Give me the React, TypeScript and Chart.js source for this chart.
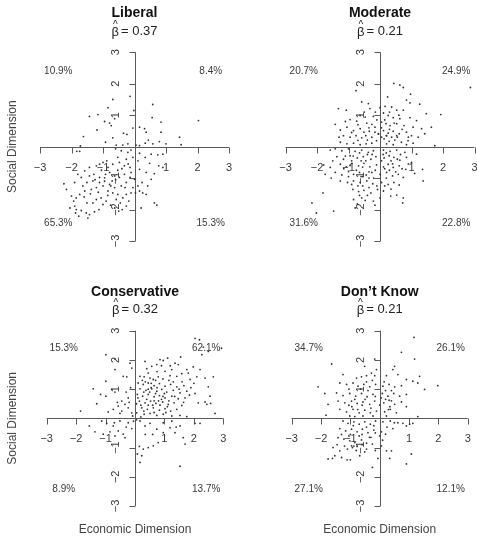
import React, { useEffect, useRef } from 'react';
import { Chart, registerables } from 'chart.js';

Chart.register(...registerables);

// ---------------- data ----------------
const TITLES = ['Liberal', 'Moderate', 'Conservative', 'Don\u2019t Know'];
const BETAS = ['0.37', '0.21', '0.32', '0.21'];
// quadrant shares: [top-left, top-right, bottom-left, bottom-right]
const SHARES_LIBERAL = ['10.9%', '8.4%', '65.3%', '15.3%'];
const SHARES_MODERATE = ['20.7%', '24.9%', '31.6%', '22.8%'];
const SHARES_CONSERVATIVE = ['15.3%', '62.1%', '8.9%', '13.7%'];
const SHARES_DONTKNOW = ['34.7%', '26.1%', '27.1%', '12.1%'];
const TICKS = [-3, -2, -1, 1, 2, 3];
const TICK_LABELS = ['\u22123', '\u22122', '\u22121', '1', '2', '3'];
const X_TITLE = 'Economic Dimension';
const Y_TITLE = 'Social Dimension';

const LIBERAL: number[][] = [
  [-0.14,1.6],[-0.69,1.5],[-0.84,1.24],[0.58,1.34],[-0.02,1.15],[-1.43,0.96],[-1.16,1.02],[-0.95,0.8],[-0.74,0.67],[-0.79,0.75],
  [-1.19,0.53],[-0.63,0.89],[0.56,0.92],[0.84,0.78],[2.03,0.83],[0.16,0.62],[0.32,0.57],[-0.05,0.59],[0.37,0.46],[-0.35,0.43],
  [-0.24,0.39],[0.84,0.46],[-0.69,0.28],[-1.62,0.32],[1.43,0.3],[1.48,0.06],[0.44,0.21],[0.79,0.16],[1.0,0.09],[-0.92,0.14],
  [-0.58,0.05],[-0.37,0.05],[-0.21,0.09],[0.05,0.05],[0.16,0.03],[0.34,0.11],[-1.72,0.02],[-1.83,-0.15],[-1.74,-0.15],[0.58,0.09],
  [-0.6,-0.07],[-0.42,-0.13],[-0.21,-0.18],[-0.11,-0.11],[0.16,-0.21],[0.34,-0.34],[0.53,-0.24],[0.74,-0.26],[0.9,-0.24],[-0.53,-0.34],
  [-0.26,-0.4],[-0.05,-0.34],[0.11,-0.45],[0.48,-0.53],[0.77,-0.61],[0.9,-0.66],[0.63,-0.86],[0.37,-0.82],[0.16,-0.72],[-0.14,-0.66],
  [-0.32,-0.61],[-0.48,-0.5],[-0.69,-0.56],[-0.88,-0.45],[-1.11,-0.56],[-1.21,-0.61],[-1.43,-0.66],[-1.58,-0.77],[-1.8,-0.88],[-1.9,-1.14],
  [-2.24,-1.18],[-1.69,-0.98],[-1.51,-1.14],[-1.32,-1.09],[-1.11,-0.98],[-0.92,-0.88],[-0.79,-0.82],[-0.63,-0.93],[-0.48,-0.98],[-0.32,-0.88],
  [-0.11,-0.82],[0,-1.04],[-0.26,-1.14],[-0.42,-1.25],[-0.63,-1.3],[-0.79,-1.2],[-1.0,-1.25],[-1.21,-1.3],[-1.37,-1.36],[-1.58,-1.41],
  [-1.74,-1.52],[-1.85,-1.63],[-1.93,-1.73],[-1.9,-1.89],[-1.85,-2.0],[-1.69,-2.03],[-1.53,-2.11],[-1.43,-2.16],[-1.27,-2.07],[-1.13,-2.0],
  [-1.51,-1.79],[-1.32,-1.79],[-1.21,-1.68],[-1.06,-1.63],[-0.9,-1.73],[-1.0,-1.84],[-0.76,-1.86],[-0.63,-1.95],[-0.39,-2.0],[-0.26,-1.89],
  [-0.18,-1.73],[-0.37,-1.63],[-0.53,-1.52],[-0.69,-1.47],[-0.84,-1.41],[-0.58,-1.68],[-0.11,-1.47],[0.16,-1.41],[0.26,-1.47],[0.37,-1.52],
  [0.21,-1.95],[0.63,-1.79],[0.71,-1.86],[0.03,-1.47],[-2.0,-1.57],[-1.87,-2.11],[-1.77,-2.21],[-1.48,-2.27],[-1.11,-1.14],[-0.95,-0.99],
  [-2.16,-1.36],[-0.26,-1.52],[-0.45,-1.79],[-0.71,-1.09],[0.24,-1.14],[0.53,-1.04],[0.42,-1.25],[0.11,-1.25],[-0.05,-1.3],[-0.14,-0.98],
  [-0.53,-0.75],[-0.84,-0.66],[-1.29,-0.88],[-1.43,-0.93],[-1.64,-1.25],[-1.05,-0.75],[-0.95,-1.1],[-0.6,-1.05],[-0.4,-0.7],[-1.25,-1.05],
  [-1.6,-1.6],[-0.85,-1.55],[-0.3,-1.3],[-1.4,-1.5],[-2.05,-1.95],[-0.5,-2.05],[-1.0,-0.5],[-0.75,-1.25],[-1.15,-1.45],[-0.2,-0.55]
];

const MODERATE: number[][] = [
  [0.44,2.01],[0.63,1.96],[0.74,1.88],[2.87,1.88],[-0.76,1.78],[0.97,1.67],[0.24,1.58],[0.84,1.48],[-0.58,1.42],[-0.37,1.37],
  [0,1.24],[0.16,1.28],[0.37,1.26],[0.95,1.39],[1.26,1.35],[-1.32,1.21],[-1.07,1.16],[-0.32,1.21],[0.53,1.16],[0.74,1.16],
  [1.47,1.05],[1.93,1.02],[0.11,1.07],[0.26,0.99],[-0.63,0.99],[-0.47,0.94],[-0.21,0.96],[0.42,0.92],[0.63,0.89],[0.95,0.92],
  [1.16,0.83],[-0.95,0.86],[-0.74,0.81],[-0.42,0.75],[-0.26,0.71],[0.05,0.78],[0.19,0.73],[0.32,0.67],[0.53,0.73],[0.76,0.67],
  [1.05,0.62],[1.32,0.57],[1.63,0.62],[-1.42,0.71],[-1.26,0.53],[-1.05,0.62],[-0.84,0.51],[-0.63,0.57],[-0.51,0.46],[-0.34,0.49],
  [-0.16,0.46],[0.11,0.51],[0.26,0.43],[0.42,0.49],[0.61,0.41],[0.84,0.46],[1.0,0.35],[1.21,0.3],[1.42,0.41],[-1.16,0.35],
  [-0.95,0.3],[-0.76,0.35],[-0.58,0.28],[-0.4,0.21],[-0.26,0.3],[-0.11,0.19],[0.13,0.25],[0.29,0.17],[0.47,0.21],[0.68,0.14],
  [0.89,0.19],[1.05,0.11],[1.74,0.03],[-1.58,-0.11],[-1.26,0.14],[-1.05,0.09],[-0.84,0.11],[-0.63,0.06],[-0.44,0.09],[-0.26,0.11],
  [0.21,0.09],[0.42,0.06],[0.84,0.06],[-0.05,0.4],[0.05,0.6],[-0.1,0.85],[0.3,1.1],[0.55,0.3],[-0.7,0.7],[0.2,0.35],
  [-0.16,0.62],[-0.05,0.41],[0.05,0.3],[0.21,0.35],[0.37,0.3],[0.53,0.35],[-0.45,0.35],[-0.7,0.2],[-0.9,0.45],[-0.35,0.6],
  [0.3,0.55],[0.15,0.85],[-0.15,1.1],[0.45,0.75],[0.7,0.55],[0.9,0.3],[-1.3,0.3],[-1.1,0.8],[0.6,1.0],[-0.5,1.1],
  [-1.42,-0.07],[-1.21,-0.13],[-1.0,-0.07],[-0.79,-0.15],[-0.58,-0.11],[-0.37,-0.18],[-0.21,-0.13],[0.11,-0.11],[0.32,-0.15],[0.53,-0.11],
  [0.79,-0.18],[1.16,-0.24],[-1.37,-0.32],[-1.16,-0.4],[-0.95,-0.29],[-0.72,-0.36],[-0.53,-0.32],[-0.29,-0.4],[-0.13,-0.32],[0.13,-0.36],
  [0.29,-0.29],[0.44,-0.34],[0.63,-0.43],[0.84,-0.34],[1.0,-0.5],[-1.79,-0.58],[-1.58,-0.66],[-1.26,-0.56],[-1.07,-0.64],[-0.89,-0.53],
  [-0.68,-0.61],[-0.51,-0.53],[-0.32,-0.64],[-0.11,-0.58],[0.11,-0.64],[0.26,-0.56],[0.42,-0.66],[0.61,-0.61],[0.82,-0.72],[1.35,-0.72],
  [-1.74,-0.88],[-1.42,-0.82],[-1.21,-0.9],[-1.0,-0.79],[-0.84,-0.88],[-0.65,-0.82],[-0.44,-0.9],[-0.26,-0.82],[0,-0.88],[0.21,-0.82],
  [0.4,-0.93],[0.58,-0.88],[0.74,-0.98],[1.37,-1.09],[-1.26,-1.09],[-1.03,-1.14],[-0.84,-1.09],[-0.63,-1.14],[-0.42,-1.09],[-0.23,-1.18],
  [0.05,-1.14],[0.26,-1.2],[0.44,-1.14],[0.61,-1.22],[-1.81,-1.47],[-0.86,-1.36],[-0.68,-1.43],[-0.51,-1.39],[-0.29,-1.47],[-0.08,-1.36],
  [0.11,-1.41],[0.34,-1.57],[0.53,-1.54],[0.74,-1.63],[0.72,-1.79],[-2.16,-1.79],[-2.02,-2.11],[-1.47,-2.05],[-0.84,-1.68],[-0.72,-1.82],
  [-0.47,-1.71],[-0.21,-1.73],[-0.16,-1.86],[-0.58,-1.63],[-0.79,-1.95],[0,-1.63],[-0.55,-0.95],[-0.7,-1.25],[0.35,-0.45],[-0.4,-0.25],
  [0.15,-0.7],[-0.9,-0.45],[0.5,-0.8],[-0.35,-1.3],[0.2,-1.0],[-1.1,-0.3],[0.65,-0.25],[-0.6,-0.45],[0.05,-0.45],[-0.2,-1.0],
  [-0.85,-0.3],[-0.65,-0.2],[-0.45,-0.45],[-0.25,-0.25],[0.2,-0.2],[0.4,-0.55],[0.55,-0.4],[0.7,-0.7],[0.3,-0.75],[-0.15,-0.75],
  [-0.35,-0.8],[-0.55,-0.65],[-0.75,-0.75],[-1.0,-0.95],[-1.15,-0.7],[-0.9,-1.2],[-0.55,-1.25],[-0.35,-1.0],[-0.1,-1.25],[0.15,-1.25],
  [0.35,-1.35],[-0.65,-1.55],[-0.4,-1.55],[0.9,-0.55],[1.1,-0.85],[-1.5,-0.45],[-1.55,-1.0],[0.1,-0.25],[-0.6,-0.95],[-0.95,-0.6]
];

const CONSERVATIVE: number[][] = [
  [2.04,2.74],[2.19,2.69],[2.32,2.44],[2.94,2.4],[2.27,2.18],[2.49,2.29],[1.55,2.1],[1.11,2.06],[0.85,2.01],[0.96,1.98],
  [0.34,1.95],[1.36,1.89],[1.47,1.84],[0.57,1.78],[0.74,1.84],[1.98,1.76],[2.21,1.67],[1.76,1.67],[1.25,1.67],[1.02,1.61],
  [0.45,1.55],[0.17,1.44],[0.31,1.42],[0.51,1.38],[0.62,1.33],[0.79,1.42],[1.19,1.46],[1.42,1.44],[1.59,1.53],[1.87,1.33],
  [2.1,1.42],[2.38,1.38],[2.66,1.42],[1.81,1.55],[0.11,1.21],[0.28,1.16],[0.45,1.21],[0.65,1.12],[0.83,1.19],[1.02,1.1],
  [1.21,1.16],[1.42,1.08],[1.66,1.12],[2.49,1.08],[0.17,1.01],[0.37,0.96],[0.57,1.01],[0.74,0.93],[0.91,0.99],[1.08,0.9],
  [1.3,0.96],[1.53,0.87],[1.76,0.93],[2.04,0.85],[2.55,0.76],[0.08,0.82],[0.26,0.76],[0.45,0.82],[0.65,0.74],[0.83,0.78],
  [1.02,0.7],[1.25,0.76],[1.47,0.67],[1.7,0.7],[2.15,0.53],[2.38,0.56],[2.57,0.51],[2.44,0.48],[0.15,0.59],[0.34,0.53],
  [0.53,0.59],[0.71,0.51],[0.94,0.56],[1.13,0.48],[1.33,0.53],[1.59,0.44],[0.23,0.36],[0.42,0.31],[0.62,0.36],[0.83,0.28],
  [1.02,0.33],[1.21,0.25],[1.42,0.31],[0.06,0.19],[0.31,0.14],[0.51,0.17],[0.74,0.1],[0.96,0.14],[1.25,0.08],[1.53,0.1],
  [1.76,0.06],[2.72,0.17],[0.55,1.05],[0.7,0.85],[0.9,0.65],[0.4,0.65],[1.15,1.3],[0.6,0.45],[1.0,0.85],[0.35,1.25],
  [0.8,0.6],[1.35,0.75],[0.2,0.45],[1.9,1.05],[0.75,1.6],[1.6,1.25],[0.05,0.5],[1.1,0.4],[0.5,0.9],[0.95,1.35],
  [0.3,0.9],[0.55,1.2],[0.75,1.05],[0.95,0.75],[1.15,0.6],[0.45,0.45],[0.65,0.6],[0.85,0.45],[1.05,0.2],[0.3,0.25],
  [0.1,0.7],[0.25,1.3],[1.3,1.25],[1.5,1.0],[0.7,1.3],[1.65,0.55],[1.85,0.8],[2.0,1.2],[1.2,1.8],[0.9,1.8],
  [0.4,1.7],[0.2,0.05],[0.65,0.2],[0.45,1.0],
  [-0.99,2.18],[-0.68,2.03],[-0.17,1.89],[-0.11,1.72],[-0.68,1.67],[-0.4,1.44],[-0.28,1.42],[-0.99,1.27],[-1.42,1.01],[-0.79,0.99],
  [-0.68,0.9],[-1.17,0.82],[-0.99,0.76],[-0.23,0.7],[-0.45,0.59],[-0.34,0.48],[-0.57,0.42],[-0.74,0.31],[-0.91,0.22],[-1.85,0.25],
  [-0.23,0.36],[-0.11,0.19],[-0.08,0.08],[-0.51,0.17],[-0.15,1.05],[-0.6,0.55],[-1.3,0.5],[-0.3,0.9],[-0.2,0.55],[-0.45,0.25],
  [-1.55,-0.26],[-1.36,-0.46],[-1.13,-0.09],[-0.96,-0.17],[-0.74,-0.26],[-0.57,-0.43],[-0.4,-0.54],[-0.23,-0.15],[-0.11,-0.35],[-0.68,-0.6],
  [-0.85,-0.46],[-1.08,-0.54],[-0.51,-0.09],[-0.34,-0.66],[0.17,-0.09],[0.34,-0.26],[0.51,-0.17],[0.74,-0.37],[0.96,-0.49],[1.19,-0.32],
  [1.36,-0.49],[1.53,-0.26],[1.64,-0.66],[1.7,-0.88],[0.79,-0.83],[0.62,-0.94],[0.45,-1.0],[0.15,-0.96],[0.28,-1.05],[0.08,-1.22],
  [0.23,-1.28],[0.17,-1.51],[1.53,-1.64],[2.04,-0.17],[2.21,-0.17],[1.25,-0.09],[0.96,-0.15],[0.05,-0.05],[-0.05,-0.1],[0.6,-0.55],
  [-0.3,-0.3],[0.35,-0.55],[1.4,-0.3],[-0.7,-0.15]
];

const DONTKNOW: number[][] = [
  [1.17,2.77],[0.74,2.26],[1.19,2.03],[-0.17,2.03],[-1.64,1.86],[-0.51,1.78],[0.51,1.78],[0.45,1.67],[-0.11,1.67],[-0.28,1.55],
  [-1.25,1.5],[-0.79,1.38],[-0.62,1.42],[-0.45,1.46],[-0.17,1.46],[0.23,1.46],[0.62,1.5],[1.36,1.44],[0.91,1.33],[1.13,1.27],
  [1.3,1.21],[1.98,1.12],[1.53,0.99],[-2.1,1.08],[-1.36,1.21],[-1.13,1.16],[-0.91,1.21],[-0.74,1.1],[-0.54,1.16],[-0.34,1.08],
  [-0.14,1.16],[0.11,1.1],[0.32,1.16],[0.51,1.08],[0.74,1.12],[-1.87,0.85],[-1.47,0.87],[-1.25,0.78],[-1.02,0.85],[-0.82,0.76],
  [-0.62,0.85],[-0.43,0.74],[-0.23,0.82],[0.09,0.85],[0.28,0.76],[0.48,0.85],[0.68,0.76],[0.91,0.82],[-1.76,0.48],[-1.42,0.59],
  [-1.19,0.53],[-0.96,0.59],[-0.77,0.51],[-0.57,0.56],[-0.34,0.48],[-0.17,0.59],[0.14,0.53],[0.32,0.62],[0.51,0.48],[0.74,0.56],
  [0.91,0.4],[-1.36,0.31],[-1.13,0.22],[-0.91,0.31],[-0.7,0.19],[-0.51,0.28],[-0.32,0.19],[-0.11,0.25],[0.17,0.22],[0.36,0.31],
  [0.57,0.19],[-1.83,0.11],[-1.02,0.08],[-0.85,0.06],[-0.57,0.08],[-0.23,0.08],[0.23,0.08],[1.3,0.06],[-0.65,1.0],[-0.4,0.95],
  [0.2,0.95],[-0.95,0.4],[0.05,0.7],[-0.5,0.65],[0.35,0.4],[-0.25,1.3],[-1.05,1.0],[0.15,1.25],[-0.75,0.3],[0.4,0.6],
  [-0.3,0.35],[-0.6,0.45],[-0.15,0.75],[0.2,0.65],[0.4,0.95],[-0.85,0.65],[-1.05,0.45],[-0.45,1.25],[0.0,0.45],[0.3,0.3],
  [-1.25,-0.09],[-1.08,-0.17],[-0.88,-0.12],[-0.7,-0.2],[-0.51,-0.12],[-0.32,-0.2],[-0.14,-0.09],[0.11,-0.12],[0.36,-0.09],[0.62,-0.15],
  [0.79,-0.17],[1.02,-0.2],[1.13,-0.17],[-1.36,-0.35],[-1.16,-0.43],[-0.96,-0.37],[-0.77,-0.46],[-0.59,-0.37],[-0.4,-0.49],[-0.2,-0.4],
  [0.06,-0.46],[0.2,-0.54],[0.91,-0.26],[-1.42,-0.66],[-1.22,-0.71],[-1.02,-0.77],[-0.85,-0.83],[-0.93,-1.0],[-0.77,-0.96],[-0.62,-0.74],
  [-0.45,-0.85],[-0.25,-0.88],[0.06,-0.94],[0.23,-1.11],[0.4,-1.11],[1.08,-1.22],[-1.59,-1.0],[-1.36,-1.11],[-1.53,-1.28],[-1.76,-1.39],
  [-1.61,-1.37],[-1.3,-1.34],[-1.11,-1.42],[-1.0,-1.42],[-0.68,-1.28],[-0.51,-1.15],[-0.06,-1.37],[0.34,-1.37],[-0.25,-1.68],[0.91,-1.56],
  [-0.96,-0.94],[-0.88,-0.95],[-1.05,-0.6],[-0.6,-0.55],[-0.3,-0.65],[-1.2,-0.95],[0.45,-0.35],[0.1,-0.75],[-0.45,-1.05],[-0.15,-1.1],
  [-0.7,-0.6],[-0.45,-0.3],[-0.2,-0.25],[-1.0,-0.55],[-1.3,-0.55],[-0.8,-1.1],[-1.1,-1.05],[0.25,-0.3],[0.5,-0.15],[-0.35,-0.65],
  [-0.6,-0.9],[-1.45,-0.9],[0.0,-0.6],[-0.15,-0.5],[-0.9,-0.25]
];

// ---------------- layout (pixels) ----------------
const PANEL_BOXES = [
  { left: 0, top: 0, width: 238, height: 268, pad: { left: 40, right: 9, top: 52.3, bottom: 27 } },
  { left: 238, top: 0, width: 239, height: 268, pad: { left: 47.5, right: 2.5, top: 52.3, bottom: 27 } },
  { left: 0, top: 268, width: 238, height: 270, pad: { left: 46.7, right: 14.7, top: 62.7, bottom: 32 } },
  { left: 238, top: 268, width: 239, height: 270, pad: { left: 53.7, right: 9.3, top: 62.7, bottom: 32 } },
];

const FONT = '"Liberation Sans", Arial, Helvetica, sans-serif';
const AXIS_COLOR = '#5a5a5a';
const TEXT_COLOR = '#3a3a3a';
const POINT_COLOR = '#333333';

const quadPlugin = {
  id: 'quad',
  beforeDatasetsDraw(chart: any, _args: any, _opts: any) {
    const ctx = chart.ctx;
    const xs = chart.scales.x;
    const ys = chart.scales.y;
    const x0 = Math.round(xs.getPixelForValue(0)) + 0.5;
    const y0 = Math.round(ys.getPixelForValue(0)) + 0.5;
    ctx.save();
    ctx.strokeStyle = AXIS_COLOR;
    ctx.lineWidth = 1;
    ctx.beginPath();
    ctx.moveTo(xs.getPixelForValue(-3), y0);
    ctx.lineTo(xs.getPixelForValue(3), y0);
    ctx.moveTo(x0, ys.getPixelForValue(-3));
    ctx.lineTo(x0, ys.getPixelForValue(3));
    TICKS.forEach((t) => {
      const px = Math.round(xs.getPixelForValue(t)) + 0.5;
      ctx.moveTo(px, y0);
      ctx.lineTo(px, y0 + 6);
      const py = Math.round(ys.getPixelForValue(t)) + 0.5;
      ctx.moveTo(x0, py);
      ctx.lineTo(x0 - 6, py);
    });
    ctx.stroke();

    ctx.fillStyle = TEXT_COLOR;
    ctx.font = `11px ${FONT}`;
    ctx.textAlign = 'center';
    ctx.textBaseline = 'middle';
    TICKS.forEach((t, i) => {
      ctx.fillText(TICK_LABELS[i], xs.getPixelForValue(t), y0 + 20);
      ctx.save();
      ctx.translate(x0 - 20, ys.getPixelForValue(t));
      ctx.rotate(-Math.PI / 2);
      ctx.fillText(TICK_LABELS[i], 0, 0);
      ctx.restore();
    });
    ctx.restore();
  },
  afterDraw(chart: any, _args: any, opts: any) {
    const ctx = chart.ctx;
    const xs = chart.scales.x;
    const ys = chart.scales.y;
    const cx = xs.getPixelForValue(0);
    const top = chart.chartArea.top;
    ctx.save();
    ctx.textAlign = 'center';
    ctx.textBaseline = 'middle';
    // title
    ctx.fillStyle = '#111';
    ctx.font = `bold 14px ${FONT}`;
    ctx.fillText(opts.title, cx, top - 39);
    // beta hat line
    ctx.fillStyle = '#222';
    ctx.font = `13px ${FONT}`;
    const rest = '= ' + opts.beta;
    const bw = ctx.measureText('\u03B2').width;
    const gap = 2;
    const rw = ctx.measureText(rest).width;
    const total = bw + gap + rw;
    const sx = cx - total / 2;
    ctx.textAlign = 'left';
    ctx.fillText('\u03B2', sx, top - 20);
    ctx.fillText(rest, sx + bw + gap, top - 21);
    ctx.textAlign = 'center';
    ctx.font = `10px ${FONT}`;
    ctx.fillText('^', sx + bw / 2, top - 27);
    // quadrant shares
    ctx.fillStyle = TEXT_COLOR;
    ctx.font = `10px ${FONT}`;
    const pos = [[-2.42, 2.4], [2.42, 2.4], [-2.42, -2.42], [2.42, -2.42]];
    pos.forEach((p, i) => {
      ctx.fillText(opts.shares[i], xs.getPixelForValue(p[0]), ys.getPixelForValue(p[1]));
    });
    // axis titles
    ctx.fillStyle = '#444';
    ctx.font = `12px ${FONT}`;
    if (opts.yTitle) {
      ctx.save();
      ctx.translate(13, ys.getPixelForValue(0));
      ctx.rotate(-Math.PI / 2);
      ctx.fillText(Y_TITLE, 0, 0);
      ctx.restore();
    }
    if (opts.xTitle) {
      ctx.fillText(X_TITLE, cx, chart.height - 8);
    }
    ctx.restore();
  },
};

const SERIES = [LIBERAL, MODERATE, CONSERVATIVE, DONTKNOW];
const SHARES = [SHARES_LIBERAL, SHARES_MODERATE, SHARES_CONSERVATIVE, SHARES_DONTKNOW];

function Panel({ idx }: { idx: number }) {
  const ref = useRef<HTMLCanvasElement | null>(null);
  const box = PANEL_BOXES[idx];
  useEffect(() => {
    if (!ref.current) return;
    const chart = new Chart(ref.current, {
      type: 'scatter',
      data: {
        datasets: [
          {
            data: SERIES[idx].map((p) => ({ x: p[0], y: p[1] })),
            pointRadius: 0.9,
            pointBackgroundColor: POINT_COLOR,
            pointBorderWidth: 0,
            pointHoverRadius: 0.9,
          },
        ],
      },
      options: {
        responsive: false,
        animation: false,
        events: [],
        layout: { padding: box.pad },
        scales: {
          x: { type: 'linear', min: -3, max: 3, display: false },
          y: { type: 'linear', min: -3, max: 3, display: false },
        },
        plugins: {
          legend: { display: false },
          tooltip: { enabled: false },
          title: { display: false },
          quad: {
            title: TITLES[idx],
            beta: BETAS[idx],
            shares: SHARES[idx],
            yTitle: idx % 2 === 0,
            xTitle: idx >= 2,
          },
        } as any,
      },
      plugins: [quadPlugin as any],
    });
    return () => chart.destroy();
  }, [idx]);
  return (
    <canvas
      ref={ref}
      width={box.width}
      height={box.height}
      style={{ position: 'absolute', left: box.left, top: box.top, width: box.width, height: box.height }}
    />
  );
}

export default function App() {
  return (
    <div style={{ position: 'fixed', left: 0, top: 0, width: 477, height: 538, background: '#fff' }}>
      {[0, 1, 2, 3].map((i) => (
        <Panel key={i} idx={i} />
      ))}
    </div>
  );
}
